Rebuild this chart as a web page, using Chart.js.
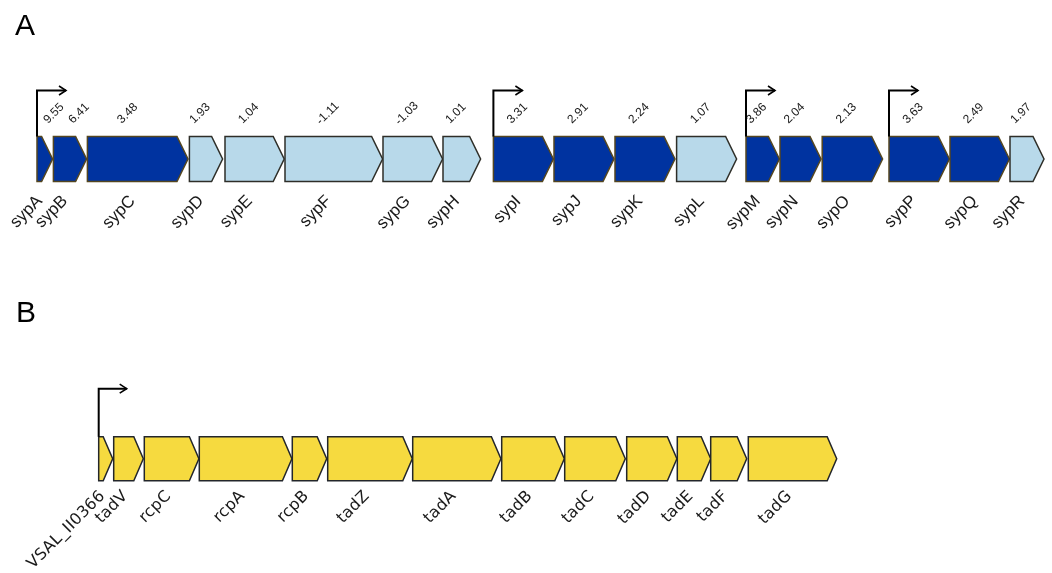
<!DOCTYPE html>
<html>
<head>
<meta charset="utf-8">
<script src="https://cdn.jsdelivr.net/npm/chart.js@4.4.1/dist/chart.umd.min.js"></script>
<style>
  html, body { margin: 0; padding: 0; background: #ffffff; }
  #wrap { width: 1052px; height: 573px; position: relative; }
</style>
</head>
<body>
<div id="wrap"><canvas id="c"></canvas></div>
<script>
// ---- Panel A: syp locus (positions in bp from the start of sypA, fold change) ----
const sypGenes  = ['sypA','sypB','sypC','sypD','sypE','sypF','sypG','sypH','sypI',
                   'sypJ','sypK','sypL','sypM','sypN','sypO','sypP','sypQ','sypR'];
const sypStart  = [0, 410, 1260, 3810, 4700, 6200, 8650, 10150, 11410,
                   12925, 14450, 15990, 17725, 18575, 19630, 21300, 22825, 24325];
const sypEnd    = [390, 1240, 3775, 4640, 6180, 8640, 10140, 11090, 12910,
                   14425, 15950, 17490, 18560, 19600, 21140, 22810, 24310, 25175];
const sypFold   = [9.55, 6.41, 3.48, 1.93, 1.04, -1.11, -1.03, 1.01, 3.31,
                   2.91, 2.24, 1.07, 3.86, 2.04, 2.13, 3.63, 2.49, 1.97];
const sypPromoters = ['sypA', 'sypI', 'sypM', 'sypP'];

// ---- Panel B: tad locus (positions in bp from the start of VSAL_II0366) ----
const tadGenes  = ['VSAL_II0366','tadV','rcpC','rcpA','rcpB','tadZ','tadA',
                   'tadB','tadC','tadD','tadE','tadF','tadG'];
const tadStart  = [0, 375, 1140, 2515, 4840, 5725, 7850, 10075, 11650, 13200, 14465, 15300, 16240];
const tadEnd    = [350, 1115, 2505, 4830, 5700, 7840, 10055, 11640, 13165, 14455, 15300, 16200, 18450];
const tadPromoters = ['VSAL_II0366'];

// ---- styling / layout ----
const FOLD_THRESHOLD = 2;
const COLOR_UP = '#0033a0';
const COLOR_LOW = '#b8d9ea';
const COLOR_TAD = '#f6da3f';
const BP_PER_PX = 25;
const W = 1052, H = 573;
const ROW_A_PX = 159, ROW_B_PX = 458.7;   // track centre lines
const LOCUS_A_PX = 37, LOCUS_B_PX = 98.7; // left edge of each locus

const rowSpan = ROW_B_PX - ROW_A_PX;
const valueLabelNudge = { sypA: 15, sypB: 15, sypC: -4 };

const sypColors = sypFold.map(v => v >= FOLD_THRESHOLD ? COLOR_UP : COLOR_LOW);
const sypBorders = sypFold.map(v => v >= FOLD_THRESHOLD ? '#54461f' : '#2e2e28');

const sypData = sypGenes.map((g, i) => ({ x: [sypStart[i], sypEnd[i]], y: 0 }));
const tadData = tadGenes.map((g, i) => ({ x: [tadStart[i], tadEnd[i]], y: 1 }));

const geneArrows = {
  id: 'geneArrows',
  afterDatasetsDraw(chart) {
    const ctx = chart.ctx;
    ctx.save();
    chart.data.datasets.forEach((ds, di) => {
      const meta = chart.getDatasetMeta(di);
      const promoterStarts = [];
      meta.data.forEach((bar, i) => {
        const p = bar.getProps(['x', 'y', 'base', 'height'], true);
        const left = Math.min(p.x, p.base), right = Math.max(p.x, p.base);
        const top = p.y - p.height / 2, bottom = p.y + p.height / 2;
        const head = Math.min(ds.headLength, right - left);
        ctx.beginPath();
        ctx.moveTo(left, top);
        ctx.lineTo(right - head, top);
        ctx.lineTo(right, p.y);
        ctx.lineTo(right - head, bottom);
        ctx.lineTo(left, bottom);
        ctx.closePath();
        ctx.fillStyle = ds.arrowColors[i];
        ctx.fill();
        ctx.lineWidth = 1.5;
        ctx.lineJoin = 'miter';
        ctx.strokeStyle = ds.arrowBorders[i];
        ctx.stroke();

        const name = ds.geneNames[i];
        const mid = (left + right) / 2;

        // gene name, rotated 45 degrees below the arrow
        ctx.save();
        ctx.translate(mid + ds.nameDx, bottom + ds.nameDy);
        ctx.rotate(-Math.PI / 4);
        ctx.font = ds.nameFont;
        ctx.letterSpacing = ds.nameSpacing;
        ctx.fillStyle = '#1a1a1a';
        ctx.textAlign = 'right';
        ctx.textBaseline = 'middle';
        ctx.fillText(name, 0, 0);
        ctx.restore();

        // fold-change value above the arrow
        if (ds.values) {
          ctx.save();
          ctx.translate(mid - 6 + (valueLabelNudge[name] || 0), top - 23);
          ctx.rotate(-Math.PI / 4);
          ctx.font = '12px "Liberation Sans", Arial, sans-serif';
          ctx.fillStyle = '#1a1a1a';
          ctx.textAlign = 'center';
          ctx.textBaseline = 'middle';
          ctx.fillText(ds.values[i].toFixed(2), 0, 0);
          ctx.restore();
        }

        if (ds.promoters.includes(name)) promoterStarts.push({ x: left, top });
      });

      // promoter bent arrows
      promoterStarts.forEach(pr => {
        const yTop = pr.top - ds.promoterRise;
        const xEnd = pr.x + ds.promoterRun;
        ctx.beginPath();
        ctx.moveTo(pr.x, pr.top);
        ctx.lineTo(pr.x, yTop);
        ctx.lineTo(xEnd, yTop);
        ctx.lineWidth = 2;
        ctx.strokeStyle = '#000';
        ctx.lineJoin = 'miter';
        ctx.stroke();
        ctx.beginPath();
        ctx.moveTo(xEnd - 7, yTop - 4.5);
        ctx.lineTo(xEnd, yTop);
        ctx.lineTo(xEnd - 7, yTop + 4.5);
        ctx.lineWidth = 1.6;
        ctx.stroke();
      });
    });

    // panel letters
    ctx.font = '30px "Liberation Sans", Arial, sans-serif';
    ctx.fillStyle = '#000';
    ctx.textAlign = 'left';
    ctx.textBaseline = 'alphabetic';
    ctx.fillText('A', 15, 35);
    ctx.fillText('B', 16, 322);
    ctx.restore();
  }
};

new Chart(document.getElementById('c'), {
  type: 'bar',
  data: {
    datasets: [
      {
        label: 'syp',
        data: sypData,
        xAxisID: 'xA',
        yAxisID: 'y',
        barThickness: 45,
        backgroundColor: 'rgba(0,0,0,0)',
        borderWidth: 0,
        geneNames: sypGenes,
        values: sypFold,
        arrowColors: sypColors,
        arrowBorders: sypBorders,
        promoters: sypPromoters,
        headLength: 11,
        nameFont: '17px "Liberation Sans", Arial, sans-serif',
        nameSpacing: '0px',
        nameDx: -5,
        nameDy: 17,
        promoterRise: 46,
        promoterRun: 29
      },
      {
        label: 'tad',
        data: tadData,
        xAxisID: 'xB',
        yAxisID: 'y',
        barThickness: 44,
        backgroundColor: 'rgba(0,0,0,0)',
        borderWidth: 0,
        geneNames: tadGenes,
        values: null,
        arrowColors: tadGenes.map(() => COLOR_TAD),
        arrowBorders: tadGenes.map(() => '#23262b'),
        promoters: tadPromoters,
        headLength: 9.5,
        nameFont: '16px "DejaVu Sans", Verdana, sans-serif',
        nameSpacing: '0.3px',
        nameDx: -3,
        nameDy: 13,
        promoterRise: 48,
        promoterRun: 28
      }
    ]
  },
  options: {
    indexAxis: 'y',
    responsive: true,
    maintainAspectRatio: false,
    animation: false,
    devicePixelRatio: 1,
    layout: { padding: 0 },
    datasets: { bar: { grouped: false } },
    plugins: { legend: { display: false }, tooltip: { enabled: false } },
    events: [],
    scales: {
      xA: {
        type: 'linear', display: false, position: 'bottom', offset: false,
        min: -LOCUS_A_PX * BP_PER_PX, max: (W - LOCUS_A_PX) * BP_PER_PX
      },
      xB: {
        type: 'linear', display: false, position: 'bottom', offset: false,
        min: -LOCUS_B_PX * BP_PER_PX, max: (W - LOCUS_B_PX) * BP_PER_PX
      },
      y: {
        type: 'linear', display: false, reverse: true, offset: false,
        min: -ROW_A_PX / rowSpan, max: (H - ROW_A_PX) / rowSpan
      }
    }
  },
  plugins: [geneArrows]
});
</script>
</body>
</html>
